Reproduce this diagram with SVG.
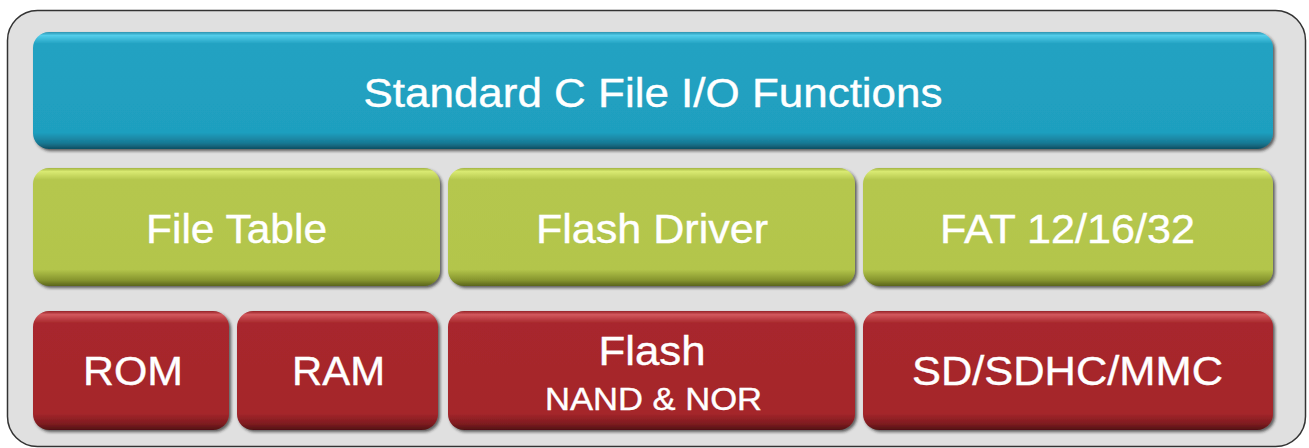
<svg xmlns="http://www.w3.org/2000/svg" width="1309" height="448" viewBox="0 0 1309 448">
<style>
text{font-family:'Liberation Sans',Arimo,Arial,Helvetica,sans-serif;fill:#ffffff;text-anchor:middle;stroke:#ffffff;stroke-width:0.4}
.big{font-size:40px}
.small{font-size:31px}
</style>
<defs>
<linearGradient id="gb" x1="0" y1="0" x2="0" y2="1">
<stop offset="0" stop-color="#2c93b0"/>
<stop offset="0.03" stop-color="#52cdea"/>
<stop offset="0.1" stop-color="#22a2c2"/>
<stop offset="0.86" stop-color="#1f9fbf"/>
<stop offset="0.95" stop-color="#177893"/>
<stop offset="1" stop-color="#0f4f62"/>
</linearGradient>
<linearGradient id="gg" x1="0" y1="0" x2="0" y2="1">
<stop offset="0" stop-color="#a3b443"/>
<stop offset="0.03" stop-color="#d9ea72"/>
<stop offset="0.1" stop-color="#b5c74e"/>
<stop offset="0.86" stop-color="#b3c54b"/>
<stop offset="0.95" stop-color="#86952e"/>
<stop offset="1" stop-color="#5a641b"/>
</linearGradient>
<linearGradient id="gr" x1="0" y1="0" x2="0" y2="1">
<stop offset="0" stop-color="#942227"/>
<stop offset="0.03" stop-color="#d2585c"/>
<stop offset="0.1" stop-color="#a8282d"/>
<stop offset="0.86" stop-color="#a5262b"/>
<stop offset="0.95" stop-color="#7d1b1f"/>
<stop offset="1" stop-color="#501013"/>
</linearGradient>
<filter id="sh" x="-5%" y="-10%" width="110%" height="125%">
<feDropShadow dx="2" dy="2" stdDeviation="1.5" flood-color="#202020" flood-opacity="0.7"/>
</filter>
</defs>
<rect x="7.5" y="10.5" width="1298" height="436" rx="30" fill="#e0e0e0" stroke="#333333" stroke-width="1.5"/>
<g id="node-std">
<rect x="33" y="32" width="1240" height="117" rx="16" fill="url(#gb)" filter="url(#sh)"/>
<text class="big" x="653" y="107" textLength="579" lengthAdjust="spacingAndGlyphs">Standard C File I/O Functions</text>
</g>
<g id="node-filetable">
<rect x="33" y="168" width="407" height="118" rx="16" fill="url(#gg)" filter="url(#sh)"/>
<text class="big" x="236.5" y="243" textLength="181" lengthAdjust="spacingAndGlyphs">File Table</text>
</g>
<g id="node-flashdriver">
<rect x="448" y="168" width="407" height="118" rx="16" fill="url(#gg)" filter="url(#sh)"/>
<text class="big" x="652" y="243" textLength="232" lengthAdjust="spacingAndGlyphs">Flash Driver</text>
</g>
<g id="node-fat">
<rect x="863" y="168" width="410" height="118" rx="16" fill="url(#gg)" filter="url(#sh)"/>
<text class="big" x="1067.5" y="243" textLength="255" lengthAdjust="spacingAndGlyphs">FAT 12/16/32</text>
</g>
<g id="node-rom">
<rect x="33" y="311" width="196" height="119" rx="16" fill="url(#gr)" filter="url(#sh)"/>
<text class="big" x="133" y="385" textLength="100" lengthAdjust="spacingAndGlyphs">ROM</text>
</g>
<g id="node-ram">
<rect x="237" y="311" width="201" height="119" rx="16" fill="url(#gr)" filter="url(#sh)"/>
<text class="big" x="338.5" y="385" textLength="93" lengthAdjust="spacingAndGlyphs">RAM</text>
</g>
<g id="node-flash">
<rect x="448" y="311" width="407" height="119" rx="16" fill="url(#gr)" filter="url(#sh)"/>
<text class="big" x="652" y="365" textLength="107" lengthAdjust="spacingAndGlyphs">Flash</text>
<text class="small" x="653.5" y="410" textLength="217" lengthAdjust="spacingAndGlyphs">NAND &amp; NOR</text>
</g>
<g id="node-sd">
<rect x="863" y="311" width="410" height="119" rx="16" fill="url(#gr)" filter="url(#sh)"/>
<text class="big" x="1067.5" y="385" textLength="311" lengthAdjust="spacingAndGlyphs">SD/SDHC/MMC</text>
</g>
<g id="connectors"></g>
</svg>
